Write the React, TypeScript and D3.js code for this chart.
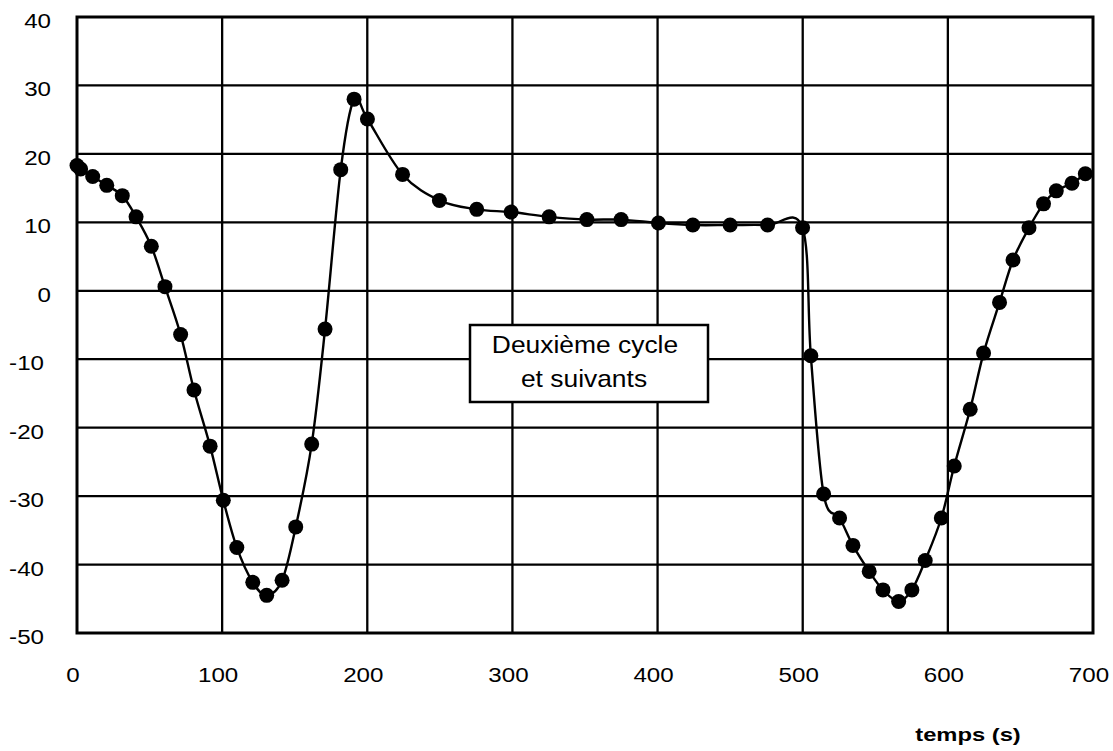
import React from "react";
import * as d3 from "d3";

const times: number[] = [0, 2.5, 10.8, 20.5, 31.2, 40.7, 51.2, 60.6, 71.4, 80.6, 91.7, 100.8, 110.1, 121.1, 130.7, 141.3, 150.7, 161.7, 170.9, 181.7, 190.9, 200.1, 224.3, 249.7, 275.4, 299.1, 325.3, 351.3, 374.9, 400.6, 424.3, 450, 475.8, 499.9, 505.6, 514.4, 525.4, 534.6, 545.8, 555.3, 566.1, 575.2, 584.4, 595.5, 604.4, 615.4, 624.6, 635.6, 644.9, 655.9, 665.9, 674.7, 685.5, 694.7];
const values: number[] = [18.3, 17.8, 16.7, 15.4, 13.9, 10.8, 6.5, 0.6, -6.4, -14.5, -22.7, -30.6, -37.5, -42.6, -44.5, -42.3, -34.5, -22.4, -5.6, 17.7, 28.0, 25.1, 17.0, 13.2, 11.9, 11.5, 10.8, 10.4, 10.4, 9.9, 9.6, 9.6, 9.6, 9.2, -9.5, -29.7, -33.2, -37.2, -41.0, -43.7, -45.4, -43.7, -39.4, -33.2, -25.6, -17.3, -9.1, -1.7, 4.5, 9.2, 12.7, 14.6, 15.7, 17.1];
const xTicks: number[] = [0, 100, 200, 300, 400, 500, 600, 700];
const yTicks: number[] = [40, 30, 20, 10, 0, -10, -20, -30, -40, -50];
const xLabel = "temps (s)";
const noteLines: string[] = ["Deuxième cycle", "et suivants"];

const FONT = "'Liberation Sans', Arial, Helvetica, sans-serif";

export default function App() {
  const left = 77, top = 17, right = 1093, bottom = 633;
  const x = d3.scaleLinear().domain([0, 700]).range([left, right]);
  const y = d3.scaleLinear().domain([-50, 40]).range([bottom, top]);
  const pts: [number, number][] = times.map((t, i) => [t, values[i]]);
  const line = d3
    .line<[number, number]>()
    .x((d) => x(d[0]))
    .y((d) => y(d[1]))
    .curve(d3.curveCardinal.tension(0));
  const sx = 1.15;
  return (
    <svg
      width={1113}
      height={751}
      style={{ position: "absolute", left: 0, top: 0, background: "#fff" }}
    >
      <rect x={0} y={0} width={1113} height={751} fill="#fff" />
      {xTicks.slice(1, -1).map((t) => (
        <line key={"vx" + t} x1={x(t)} x2={x(t)} y1={top} y2={bottom} stroke="#000" strokeWidth={2.3} />
      ))}
      {yTicks.slice(1, -1).map((v) => (
        <line key={"hy" + v} x1={left} x2={right} y1={y(v)} y2={y(v)} stroke="#000" strokeWidth={2.3} />
      ))}
      <rect x={left} y={top} width={right - left} height={bottom - top} fill="none" stroke="#000" strokeWidth={3} />
      <path d={line(pts) || ""} fill="none" stroke="#000" strokeWidth={2.4} />
      {pts.map((d, i) => (
        <circle key={"p" + i} cx={x(d[0])} cy={y(d[1])} r={7.5} fill="#000" />
      ))}
      {yTicks.map((v) => (
        <text
          key={"yl" + v}
          transform={`translate(${v < 0 ? 44 : 51},${y(v) + 11}) scale(${sx},1)`}
          textAnchor="end"
          fontFamily={FONT}
          fontSize={21}
          fill="#000"
        >
          {v}
        </text>
      ))}
      {xTicks.map((t) => (
        <text
          key={"xl" + t}
          transform={`translate(${x(t) - 4},682) scale(${sx},1)`}
          textAnchor="middle"
          fontFamily={FONT}
          fontSize={21}
          fill="#000"
        >
          {t}
        </text>
      ))}
      <text
        transform={`translate(968,741) scale(1.25,1)`}
        textAnchor="middle"
        fontFamily={FONT}
        fontSize={19}
        fontWeight="bold"
        fill="#000"
      >
        {xLabel}
      </text>
      <rect x={470} y={325} width={238} height={77} fill="#fff" stroke="#000" strokeWidth={2.5} />
      {noteLines.map((s, i) => (
        <text
          key={"n" + i}
          transform={`translate(${585 - i * 1},${353 + i * 34}) scale(1.1,1)`}
          textAnchor="middle"
          fontFamily={FONT}
          fontSize={24}
          fill="#000"
        >
          {s}
        </text>
      ))}
    </svg>
  );
}
